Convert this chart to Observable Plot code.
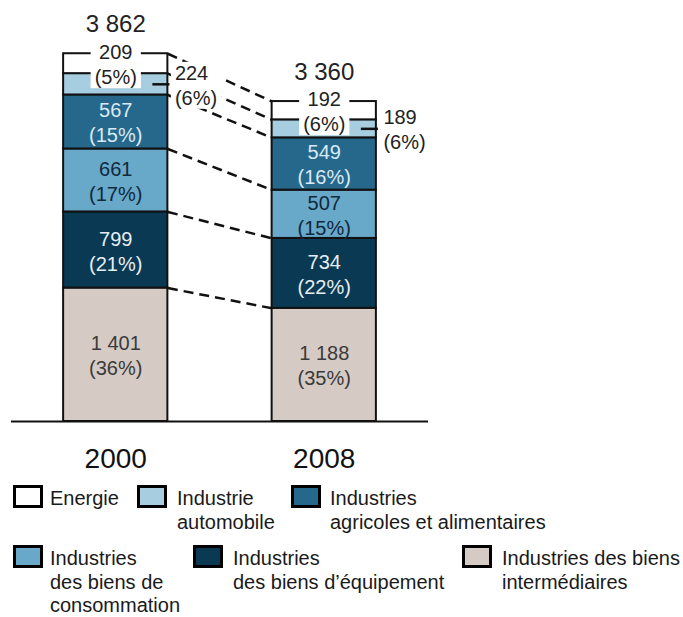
<!DOCTYPE html>
<html>
<head>
<meta charset="utf-8">
<script src="https://cdn.jsdelivr.net/npm/d3@7"></script>
<script src="https://cdn.jsdelivr.net/npm/@observablehq/plot@0.6"></script>
<style>
  html, body { margin: 0; padding: 0; background: #fff; }
  #wrap { position: relative; width: 683px; height: 617px; font-family: "Liberation Sans", Arial, sans-serif; color: #1a1a1a; }
  .sw { position: absolute; width: 24px; height: 17px; border: 3px solid #000; }
  .lt { position: absolute; font-size: 20px; line-height: 23.5px; white-space: nowrap; color: #1a1a1a; }
</style>
</head>
<body>
<div id="wrap"></div>
<script>
// ---- data ----
const years = ["2000", "2008"];
const sectors = [
  "Industries des biens intermédiaires",
  "Industries des biens d’équipement",
  "Industries des biens de consommation",
  "Industries agricoles et alimentaires",
  "Industrie automobile",
  "Energie"
];
const values2000 = [1401, 799, 661, 567, 224, 209];
const values2008 = [1188, 734, 507, 549, 189, 192];
const pct2000 = [36, 21, 17, 15, 6, 5];
const pct2008 = [35, 22, 15, 16, 6, 6];
const totals = [3862, 3360];
const sectorColors = ["#d5cbc4", "#0a3954", "#68a8c8", "#26688c", "#a7cee0", "#ffffff"];
const labelColors = ["#3a3a3a", "#e6eef3", "#10293d", "#d9ebf5", "#222222", "#222222"];
const legendLines = [
  ["Energie"],
  ["Industrie", "automobile"],
  ["Industries", "agricoles et alimentaires"],
  ["Industries", "des biens de", "consommation"],
  ["Industries", "des biens d’équipement"],
  ["Industries des biens", "intermédiaires"]
];

// ---- derived table ----
const fmt = v => d3.format(",")(v).replace(/,/g, " ");
const seriesValues = [values2000, values2008];
const seriesPct = [pct2000, pct2008];
const rows = [];
years.forEach((yr, i) => {
  let c = 0;
  sectors.forEach((s, k) => {
    const v = seriesValues[i][k];
    rows.push({i, year: yr, k, sector: s, value: v, pct: seriesPct[i][k], y1: c, y2: c + v, mid: c + v / 2,
      label: `${fmt(v)}\n(${seriesPct[i][k]}%)`});
    c += v;
  });
});
const tops = years.map((yr, i) => ({i, year: yr, total: totals[i], top: d3.sum(seriesValues[i])}));
const links = sectors.map((s, k) => {
  const a = rows.find(r => r.i === 0 && r.k === k);
  const b = rows.find(r => r.i === 1 && r.k === k);
  return {k, ya: a.y2, yb: b.y2};
});
const half = 0.25;
const inside = rows.filter(r => r.k <= 3);
const energie = rows.filter(r => r.k === 5);
const auto = rows.filter(r => r.k === 4);

const chart = Plot.plot({
  width: 683,
  height: 480,
  marginLeft: 11,
  marginRight: 255,
  marginTop: 40,
  marginBottom: 59,
  style: {fontFamily: "'Liberation Sans', Arial, sans-serif", background: "#fff"},
  x: {domain: [-0.5, 1.5], axis: null},
  y: {domain: [0, 4000], axis: null},
  marks: [
    Plot.link(links, {x1: () => half, x2: () => 1 - half, y1: "ya", y2: "yb",
      stroke: "#111", strokeWidth: 2.5, strokeDasharray: "10,6"}),
    Plot.rect(rows, {x1: d => d.i - half, x2: d => d.i + half, y1: "y1", y2: "y2",
      fill: d => sectorColors[d.k], stroke: "#111", strokeWidth: 2}),
    Plot.ruleY([0], {stroke: "#111", strokeWidth: 2}),
    Plot.ruleY(auto, {y: "mid", x1: d => d.i + half - 0.072, x2: d => d.i + half + 0.01, stroke: "#111", strokeWidth: 2.5}),
    Plot.text(inside, {x: "i", y: "mid", text: "label", fill: d => labelColors[d.k],
      fontSize: 20, lineHeight: 1.25, lineAnchor: "middle"}),
    Plot.text(tops, {x: "i", y: "top", text: d => fmt(d.total), fontSize: 24, fill: "#222",
      lineAnchor: "bottom", dy: -21.5}),
    Plot.text(tops, {x: "i", y: () => 0, text: "year", fontSize: 28, fill: "#111",
      lineAnchor: "bottom", dy: 46}),
    Plot.text(auto, {x: d => d.i + half, y: "mid", text: "label", fill: "#222", fontSize: 20,
      lineHeight: 1.25, lineAnchor: "middle", textAnchor: "start", dx: 7}),
    Plot.text(energie, {x: "i", y: "mid", text: "label", fill: "#222", fontSize: 20,
      lineHeight: 1.25, lineAnchor: "middle"})
  ]
});

const wrap = document.getElementById("wrap");
wrap.appendChild(chart);

// white boxes behind the small-segment labels (last two text marks)
const groups = chart.querySelectorAll('g[aria-label="text"]');
[groups[groups.length - 2], groups[groups.length - 1]].forEach(g => {
  if (!g) return;
  g.querySelectorAll("text").forEach(t => {
    try {
      const b = t.getBBox();
      const r = document.createElementNS("http://www.w3.org/2000/svg", "rect");
      r.setAttribute("x", b.x - 4);
      r.setAttribute("y", b.y);
      r.setAttribute("width", b.width + 8);
      r.setAttribute("height", b.height);
      r.setAttribute("fill", "#fff");
      const tr = t.getAttribute("transform");
      if (tr) r.setAttribute("transform", tr);
      t.parentNode.insertBefore(r, t);
    } catch (e) {}
  });
});

// ---- legend ----
const legendPos = [
  {sx: 13, sy: 485, tx: 50, ty: 487},
  {sx: 137, sy: 485, tx: 177, ty: 487},
  {sx: 291, sy: 485, tx: 330, ty: 487},
  {sx: 13, sy: 545, tx: 50, ty: 547},
  {sx: 193, sy: 545, tx: 233, ty: 547},
  {sx: 462, sy: 545, tx: 502, ty: 547}
];
const legendOrder = [5, 4, 3, 2, 1, 0];
legendOrder.forEach((k, j) => {
  const p = legendPos[j];
  const sw = document.createElement("div");
  sw.className = "sw";
  sw.style.left = p.sx + "px";
  sw.style.top = p.sy + "px";
  sw.style.background = sectorColors[k];
  wrap.appendChild(sw);
  const t = document.createElement("div");
  t.className = "lt";
  t.style.left = p.tx + "px";
  t.style.top = p.ty + "px";
  t.innerHTML = legendLines[j].join("<br>");
  wrap.appendChild(t);
});
</script>
</body>
</html>
